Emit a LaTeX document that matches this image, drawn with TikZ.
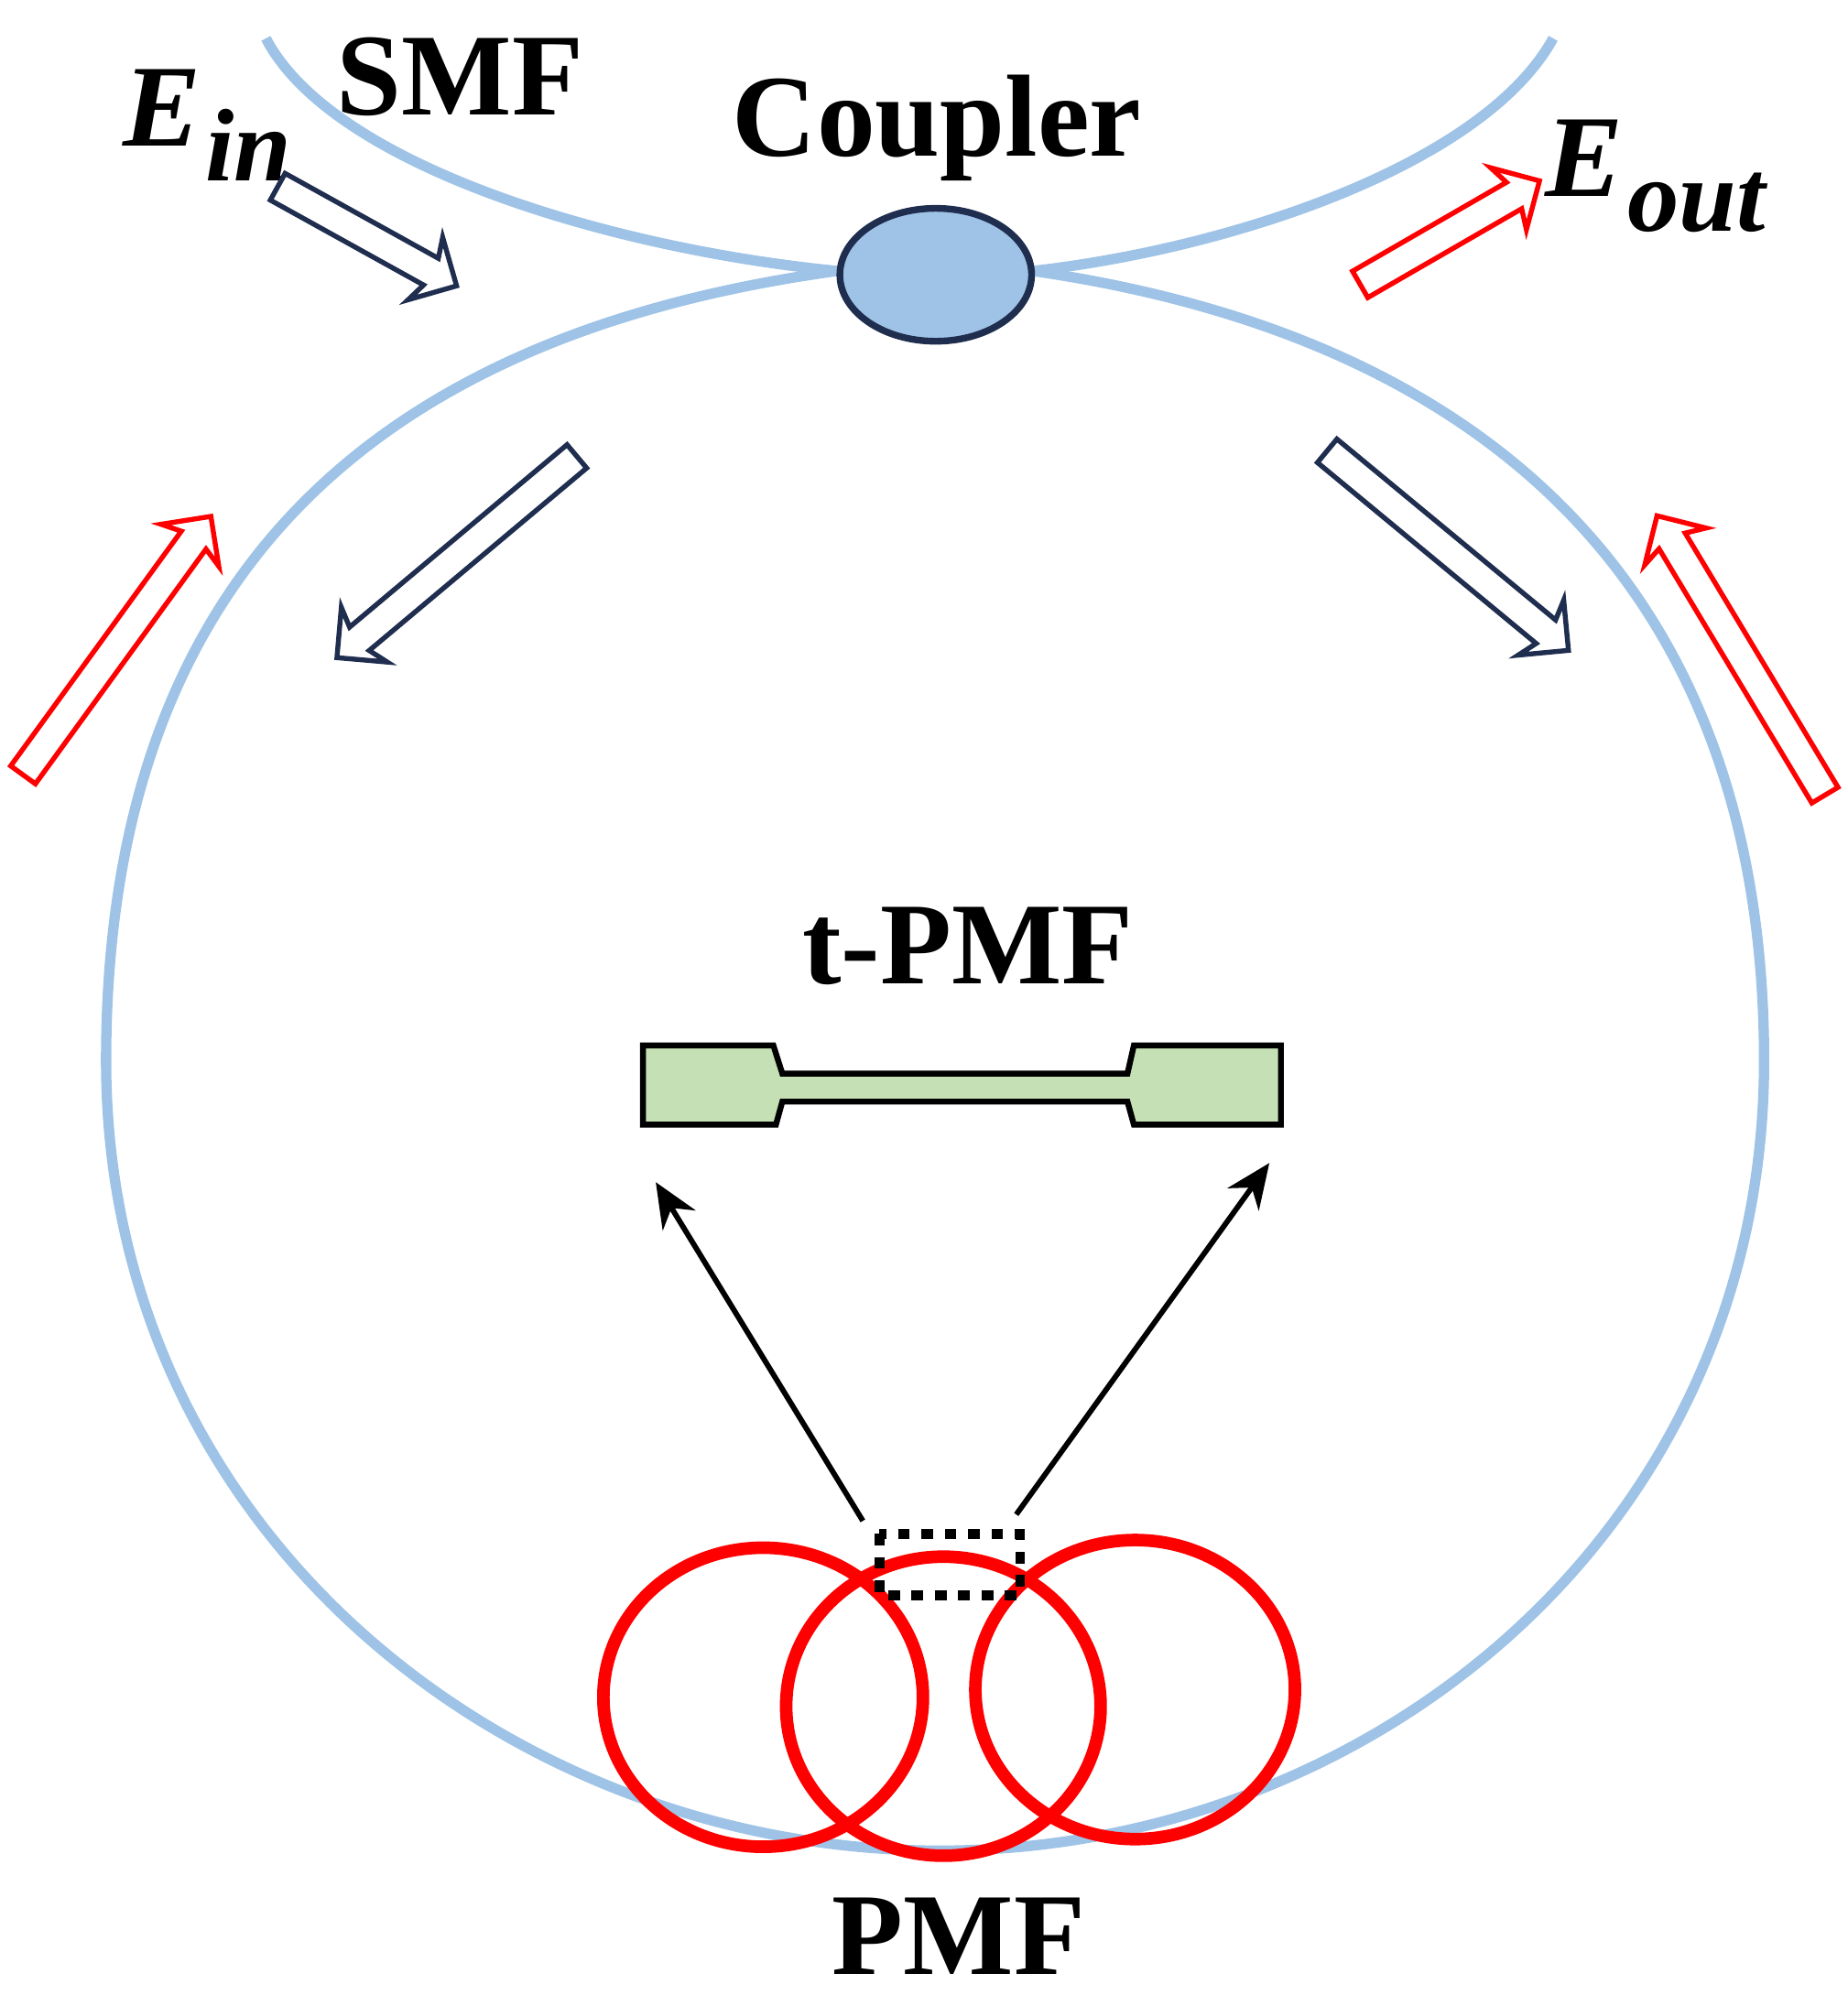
\documentclass[tikz,border=0pt]{standalone}
\usepackage{fontspec}
\setmainfont{Liberation Serif}
\usetikzlibrary{shapes.arrows,shapes.geometric,arrows.meta}
\definecolor{fiber}{RGB}{158,195,230}
\definecolor{navy}{RGB}{31,45,78}
\definecolor{taper}{RGB}{197,224,180}
\begin{document}
\begin{tikzpicture}[x=1cm,y=-1cm,
    fib/.style={draw=fiber,line width=2.3pt},
    harrow/.style={single arrow,draw=#1,line width=1.1pt,fill=white,inner sep=0.1cm,
      single arrow head extend=0.16cm,single arrow head indent=0.05cm},
    lbl/.style={font=\fontsize{26}{30}\selectfont\bfseries,inner sep=0pt},
    coil/.style={draw=red,line width=2.8pt}]
    \useasboundingbox (0,0) rectangle (14.45,15.61);
    %fibre loop
    \draw[fib] (6.55,2.12) .. controls (3.05,2.6) and (0.83,4.4) .. (0.83,8.3) .. controls (0.83,12.0) and (4.0,14.48) .. (7.35,14.48) .. controls (10.7,14.48) and (13.8,12.0) .. (13.8,8.3) .. controls (13.8,4.4) and (11.4,2.6) .. (8.08,2.12);
    \draw[fib] (2.08,0.3) .. controls (2.6,1.3) and (4.8,1.95) .. (6.55,2.12);
    \draw[fib] (12.15,0.3) .. controls (11.6,1.3) and (9.6,1.95) .. (8.08,2.12);
    \node[ellipse,draw=navy,line width=1.5pt,fill=fiber,minimum width=1.5cm,minimum height=1.04cm] (cpl) at (7.32,2.15) {};
    %labels
    \node[lbl] (smf) at (3.6,0.6) {SMF};
    \node[lbl] (cpltxt) at (7.33,1.0) {Coupler};
    \node[lbl,font=\fontsize{26}{30}\selectfont\bfseries\itshape] (ein) at (1.62,0.98) {E\raisebox{-0.3em}{\fontsize{23}{23}\selectfont\kern1pt in}};
    \node[lbl,font=\fontsize{26}{30}\selectfont\bfseries\itshape] (eout) at (12.95,1.38) {E\raisebox{-0.3em}{\fontsize{23}{23}\selectfont\kern1pt out}};
    \node[lbl] (tpmf) at (7.57,7.4) {t-PMF};
    \node[lbl] (pmf) at (7.5,15.15) {PMF};
    %hollow arrows
    \node[harrow=navy,minimum height=1.6cm,rotate=-29] (a1) at (2.82,1.82) {};
    \node[harrow=navy,minimum height=2.45cm,rotate=-140] (a2) at (3.62,4.32) {};
    \node[harrow=navy,minimum height=2.45cm,rotate=-39.6] (a3) at (11.28,4.27) {};
    \node[harrow=red,minimum height=2.5cm,rotate=54] (a4) at (0.88,5.1) {};
    \node[harrow=red,minimum height=1.62cm,rotate=30] (a5) at (11.29,1.85) {};
    \node[harrow=red,minimum height=2.55cm,rotate=121] (a6) at (13.65,5.18) {};
    %tapered fibre
    \draw[fill=taper,line width=1.3pt] (5.03,8.18) -- (6.05,8.18) -- (6.12,8.4) -- (8.82,8.4) -- (8.87,8.18) -- (10.02,8.18) -- (10.02,8.8) -- (8.87,8.8) -- (8.82,8.62) -- (6.12,8.62) -- (6.07,8.8) -- (5.03,8.8) -- cycle;
    %coils
    \draw[coil] (5.97,13.28) ellipse (1.25 and 1.17);
    \draw[coil] (7.38,13.35) ellipse (1.23 and 1.17);
    \draw[coil] (8.88,13.22) ellipse (1.25 and 1.17);
    \draw[line width=2.2pt,dash pattern=on 2.6pt off 2.6pt] (6.88,12.0) rectangle (7.98,12.48);
    \coordinate (p1) at (6.75,11.9);
    \coordinate (p2) at (7.95,11.85);
    \coordinate (q1) at (5.13,9.25);
    \coordinate (q2) at (9.93,9.1);
    \draw[line width=1.2pt,-{Stealth[length=0.35cm,width=0.3cm]}] (p1) -- (q1);
    \draw[line width=1.2pt,-{Stealth[length=0.35cm,width=0.3cm]}] (p2) -- (q2);
\end{tikzpicture}
\end{document}
